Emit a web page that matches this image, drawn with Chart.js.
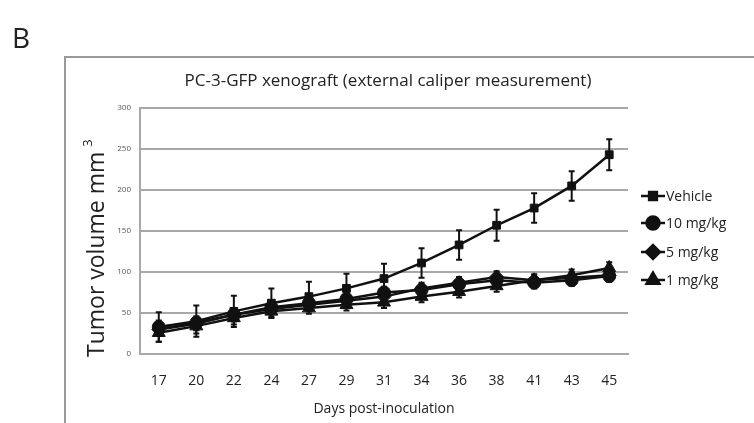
<!DOCTYPE html>
<html>
<head>
<meta charset="utf-8">
<script src="https://cdn.jsdelivr.net/npm/chart.js@4"></script>
<style>
  html, body { margin: 0; padding: 0; background: #fff; }
  #wrap { width: 754px; height: 423px; position: relative; }
</style>
</head>
<body>
<div id="wrap"><canvas id="chart"></canvas></div>
<script>
// Days after inoculation
const days = ["17", "20", "22", "24", "27", "29", "31", "34", "36", "38", "41", "43", "45"];
// Mean tumour volume (mm3) per group
const vehicle = [33, 40, 52, 62, 70, 80, 92, 111, 133, 157, 178, 205, 243];
const dose10 = [33, 38, 48, 57, 62, 67, 75, 78, 85, 90, 87, 90, 95];
const dose5 = [30, 37, 48, 55, 60, 65, 70, 80, 87, 94, 90, 93, 96];
const dose1 = [26, 34, 44, 52, 56, 60, 63, 70, 76, 83, 90, 96, 105];
// Error (SEM) per group
const vehicleErr = [18, 19, 19, 18, 18, 18, 18, 18, 18, 19, 18, 18, 19];
const dose10Err = [8, 8, 8, 7, 7, 7, 7, 7, 7, 7, 7, 7, 7];
const dose5Err = [8, 8, 8, 7, 7, 7, 7, 7, 7, 7, 7, 7, 7];
const dose1Err = [11, 9, 8, 7, 7, 7, 7, 7, 7, 7, 7, 7, 7];
const yTicks = [0, 50, 100, 150, 200, 250, 300];

const FONT = "'Open Sans', sans-serif";
let canvas = document.getElementById("chart");
let context = canvas.getContext("2d");

const makeSet = (label, data, err, style, radius) => ({
  label: label,
  data: data,
  errors: err,
  borderColor: "#111",
  backgroundColor: "#111",
  borderWidth: 2.5,
  pointStyle: style,
  pointRadius: radius,
  pointBorderWidth: 1,
  pointBackgroundColor: "#111",
  pointBorderColor: "#111",
  tension: 0,
  fill: false,
});

// frame, panel letter, title, axis titles, legend
const decorations = {
  id: "decorations",
  beforeDraw(chart) {
    let ctx = chart.ctx;
    ctx.save();
    ctx.strokeStyle = "#9a9a9a";
    ctx.lineWidth = 2;
    ctx.strokeRect(65, 57, 720, 400);
    ctx.restore();
  },
  afterDraw(chart) {
    let ctx = chart.ctx;
    let area = chart.chartArea;
    ctx.save();
    ctx.fillStyle = "#222";
    ctx.textBaseline = "alphabetic";
    ctx.font = "28px " + FONT;
    ctx.fillText("B", 12, 48);

    ctx.fillStyle = "#222";
    ctx.font = "17px " + FONT;
    ctx.textAlign = "center";
    ctx.fillText("PC-3-GFP xenograft (external caliper measurement)", 388, 86);

    ctx.font = "14px " + FONT;
    ctx.fillText("Days post-inoculation", (area.left + area.right) / 2, 413);

    // y axis title with superscript
    ctx.translate(104, 0);
    ctx.rotate(-Math.PI / 2);
    ctx.textAlign = "left";
    ctx.font = "23px " + FONT;
    let label = "Tumor volume mm";
    ctx.fillText(label, -357, 0);
    let w = ctx.measureText(label).width;
    ctx.font = "13px " + FONT;
    ctx.fillText("3", -357 + w + 5, -12);
    ctx.setTransform(1, 0, 0, 1, 0, 0);

    // legend
    let rows = [196, 223, 252, 280];
    ctx.font = "14px " + FONT;
    ctx.textAlign = "left";
    ctx.textBaseline = "middle";
    chart.data.datasets.forEach((ds, i) => {
      let y = rows[i];
      ctx.strokeStyle = "#111";
      ctx.lineWidth = 2.5;
      ctx.beginPath();
      ctx.moveTo(641, y);
      ctx.lineTo(665, y);
      ctx.stroke();
      ctx.fillStyle = "#111";
      Chart.helpers.drawPoint(ctx, {
        pointStyle: ds.pointStyle,
        radius: ds.pointRadius,
        borderWidth: 1,
        rotation: 0,
      }, 653, y);
      ctx.fill();
      ctx.fillStyle = "#222";
      ctx.fillText(ds.label, 666, y + 1);
    });
    ctx.restore();
  },
};

// vertical error bars with caps
const errorBars = {
  id: "errorBars",
  beforeDatasetsDraw(chart) {
    let ctx = chart.ctx;
    let yScale = chart.scales.y;
    ctx.save();
    ctx.strokeStyle = "#111";
    ctx.lineWidth = 2;
    chart.data.datasets.forEach((ds, i) => {
      let meta = chart.getDatasetMeta(i);
      meta.data.forEach((pt, j) => {
        let top = yScale.getPixelForValue(ds.data[j] + ds.errors[j]);
        let bottom = yScale.getPixelForValue(ds.data[j] - ds.errors[j]);
        ctx.beginPath();
        ctx.moveTo(pt.x, top);
        ctx.lineTo(pt.x, bottom);
        ctx.moveTo(pt.x - 3, top);
        ctx.lineTo(pt.x + 3, top);
        ctx.moveTo(pt.x - 3, bottom);
        ctx.lineTo(pt.x + 3, bottom);
        ctx.stroke();
      });
    });
    ctx.restore();
  },
};

let chart = new Chart(context, {
  type: "line",
  data: {
    labels: days,
    datasets: [
      makeSet("Vehicle", vehicle, vehicleErr, "rect", 5.5),
      makeSet("10 mg/kg", dose10, dose10Err, "circle", 6.5),
      makeSet("5 mg/kg", dose5, dose5Err, "rectRot", 7),
      makeSet("1 mg/kg", dose1, dose1Err, "triangle", 7.5),
    ],
  },
  options: {
    responsive: true,
    maintainAspectRatio: false,
    animation: false,
    layout: { padding: { left: 0, right: 126, top: 108, bottom: 0 } },
    plugins: {
      legend: { display: false },
      title: { display: false },
      tooltip: { enabled: false },
    },
    scales: {
      x: {
        offset: true,
        grid: { display: false, drawTicks: false },
        border: { color: "#a8a8a8", width: 2 },
        ticks: { color: "#222", font: { family: FONT, size: 14 }, padding: 19, maxRotation: 0 },
        afterFit: (scale) => { scale.height = 69; },
      },
      y: {
        min: 0,
        max: 300,
        afterBuildTicks: (scale) => { scale.ticks = yTicks.map((v) => ({ value: v })); },
        grid: { color: "#a8a8a8", lineWidth: 2, drawTicks: false },
        border: { color: "#a8a8a8", width: 2 },
        ticks: { color: "#555", font: { family: FONT, size: 8 }, padding: 9 },
        afterFit: (scale) => { scale.width = 140; },
      },
    },
  },
  plugins: [errorBars, decorations],
});
</script>
</body>
</html>
